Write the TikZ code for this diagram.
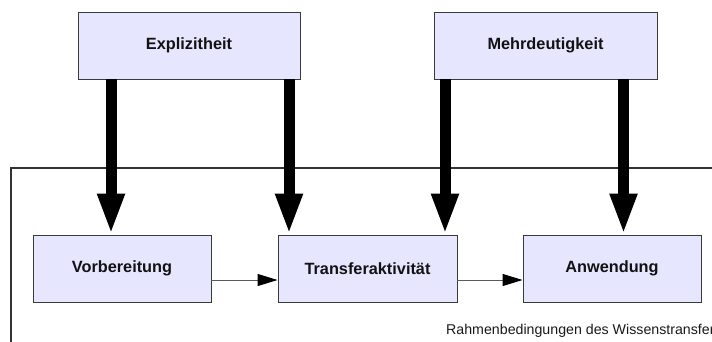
\documentclass[tikz,border=0pt]{standalone}
\usepackage{fontspec}
\setmainfont{Liberation Sans}
\usetikzlibrary{arrows.meta}

\definecolor{boxfill}{HTML}{E6E6FF}
\definecolor{boxline}{HTML}{3A3A3A}
\definecolor{flowline}{HTML}{5A5A5A}

\tikzset{
  factor/.style={draw=boxline, line width=0.9pt, fill=boxfill,
    minimum width=222pt, minimum height=67pt, inner sep=0pt,
    font=\fontsize{16.3}{19}\selectfont\bfseries, text=black!93},
  phase/.style={factor, minimum width=178pt},
  influence/.style={line width=11pt, draw=black,
    -{Triangle[length=41pt, width=25pt]}},
  flow/.style={line width=1pt, draw=flowline,
    -{Triangle[length=20pt, width=12pt, color=black, fill=black]}},
  frameline/.style={line width=1.2pt, draw=black!80},
  caption/.style={font=\fontsize{14.2}{16}\selectfont, inner sep=0pt, text=black!90}
}

\begin{document}
\begin{tikzpicture}[x=1pt, y=-1pt]
  \useasboundingbox (0,0) rectangle (712,341);
  \clip (0,0) rectangle (712,341);

  % outer frame of the framework conditions (open to the right and bottom)
  \coordinate (frame) at (11,168);
  \draw[frameline] (716,168) -- (frame) -- (11,345);

  % influencing factors
  \node[factor] (expl) at (189,45.5) {Explizitheit};
  \node[factor, minimum width=223pt] (mehr) at (545.5,45.5) {Mehrdeutigkeit};

  % transfer phases
  \node[phase] (vorb) at (122,268.5) {Vorbereitung};
  \node[phase, minimum width=179pt] (trans) at (367.5,268.5) {Transferaktivität};
  \node[phase] (anw) at (612,268.5) {Anwendung};

  % thick influence arrows
  \draw[influence] ([xshift=-78pt]expl.south) -- ([xshift=-11pt]vorb.north);
  \draw[influence] ([xshift=100pt]expl.south) -- ([xshift=-78.5pt]trans.north);
  \draw[influence] ([xshift=-100.5pt]mehr.south) -- ([xshift=77.5pt]trans.north);
  \draw[influence] ([xshift=78pt]mehr.south) -- ([xshift=11.5pt]anw.north);

  % sequence of phases
  \draw[flow] ([yshift=-11.5pt]vorb.east) -- ([yshift=-11.5pt]trans.west);
  \draw[flow] ([yshift=-11.5pt]trans.east) -- ([yshift=-11.5pt]anw.west);

  % caption of the frame
  \node[caption, anchor=base west] (rahmen) at (446,334)
    {Rahmenbedingungen des Wissenstransfer};
\end{tikzpicture}
\end{document}
